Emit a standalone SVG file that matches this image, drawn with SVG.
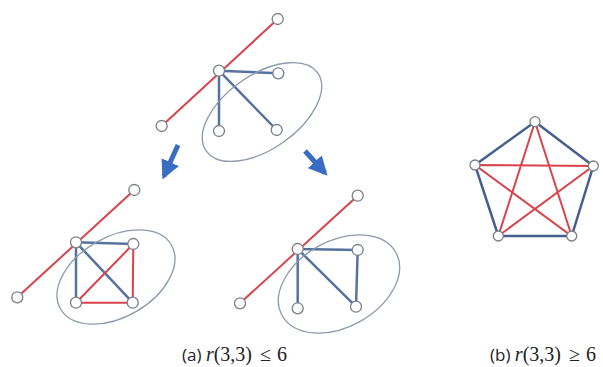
<svg xmlns="http://www.w3.org/2000/svg" width="603" height="367" viewBox="0 0 603 367">
<defs>
<style>
.red{stroke:#d9434a;stroke-width:2;fill:none;stroke-linecap:round}
.blue{stroke:#56739f;stroke-width:2.5;fill:none;stroke-linecap:round}
.pent{stroke:#46608e;stroke-width:2.5;fill:none}
.ell{stroke:#8d99ad;stroke-width:1.3;fill:none}
.node{fill:#fff;stroke:#7a7f88;stroke-width:1.3}
.arrow{stroke:#3b6cc4;stroke-width:5;fill:none}
.lbl{font-family:"Open Sans","Liberation Sans",sans-serif;font-size:17px;fill:#222}
.math{font-family:"Liberation Serif","DejaVu Serif",serif;font-size:20px}
</style>
<marker id="ah" viewBox="0 0 10 10" refX="8" refY="5" markerWidth="3.8" markerHeight="3.8" orient="auto" markerUnits="strokeWidth">
<path d="M0,0 L10,5 L0,10 z" fill="#3b6cc4"/>
</marker>
</defs>
<rect width="603" height="367" fill="#fff"/>

<g id="connectors">
<line class="red" x1="277.7" y1="19" x2="161.7" y2="126"/>
<line class="blue" x1="219" y1="70.7" x2="278.3" y2="73.3"/>
<line class="blue" x1="219" y1="70.7" x2="219" y2="131"/>
<line class="blue" x1="219" y1="70.7" x2="276.7" y2="130"/>
<line class="red" x1="134.3" y1="190" x2="17.3" y2="297.3"/>
<line class="blue" x1="76" y1="242.3" x2="133.3" y2="244"/>
<line class="blue" x1="76" y1="242.3" x2="76" y2="302.7"/>
<line class="blue" x1="76" y1="242.3" x2="132.7" y2="302.7"/>
<line class="red" x1="133.3" y1="244" x2="132.7" y2="302.7"/>
<line class="red" x1="76" y1="302.7" x2="132.7" y2="302.7"/>
<line class="red" x1="76" y1="302.7" x2="133.3" y2="244"/>
<line class="red" x1="357.7" y1="195.7" x2="240" y2="303.3"/>
<line class="blue" x1="297.7" y1="249" x2="357.7" y2="250"/>
<line class="blue" x1="297.7" y1="249" x2="297.7" y2="308.3"/>
<line class="blue" x1="297.7" y1="249" x2="356" y2="306.7"/>
<line class="blue" x1="357.7" y1="250" x2="356" y2="306.7"/>
<polygon class="pent" points="535,121.7 593.3,166 571.7,236 498.3,236 475,165"/>
<polyline class="red" points="535,121.7 571.7,236 475,165 593.3,166 498.3,236 535,121.7"/>
<line class="arrow" x1="178" y1="145" x2="164" y2="176" marker-end="url(#ah)"/>
<line class="arrow" x1="305" y1="151" x2="325" y2="173" marker-end="url(#ah)"/>
</g>

<g id="ellipses">
<ellipse class="ell" cx="262" cy="112" rx="68" ry="37" transform="rotate(-35 262 112)"/>
<ellipse class="ell" cx="116" cy="277" rx="64" ry="40" transform="rotate(-30 116 277)"/>
<ellipse class="ell" cx="339" cy="284" rx="65" ry="43" transform="rotate(-29 339 284)"/>
</g>

<g id="nodes-top">
<circle class="node" cx="277.7" cy="19" r="5.5"/>
<circle class="node" cx="219" cy="70.7" r="5.5"/>
<circle class="node" cx="278.3" cy="73.3" r="5.5"/>
<circle class="node" cx="161.7" cy="126" r="5.5"/>
<circle class="node" cx="219" cy="131" r="5.5"/>
<circle class="node" cx="276.7" cy="130" r="5.5"/>
</g>
<g id="nodes-bottom-left">
<circle class="node" cx="134.3" cy="190" r="5.5"/>
<circle class="node" cx="76" cy="242.3" r="5.5"/>
<circle class="node" cx="133.3" cy="244" r="5.5"/>
<circle class="node" cx="17.3" cy="297.3" r="5.5"/>
<circle class="node" cx="76" cy="302.7" r="5.5"/>
<circle class="node" cx="132.7" cy="302.7" r="5.5"/>
</g>
<g id="nodes-bottom-middle">
<circle class="node" cx="357.7" cy="195.7" r="5.5"/>
<circle class="node" cx="297.7" cy="249" r="5.5"/>
<circle class="node" cx="357.7" cy="250" r="5.5"/>
<circle class="node" cx="240" cy="303.3" r="5.5"/>
<circle class="node" cx="297.7" cy="308.3" r="5.5"/>
<circle class="node" cx="356" cy="306.7" r="5.5"/>
</g>
<g id="nodes-pentagon">
<circle class="node" cx="535" cy="121.7" r="5"/>
<circle class="node" cx="593.3" cy="166" r="5"/>
<circle class="node" cx="571.7" cy="236" r="5"/>
<circle class="node" cx="498.3" cy="236" r="5"/>
<circle class="node" cx="475" cy="165" r="5"/>
</g>

<g id="labels">
<text class="lbl" x="182" y="361">(a) <tspan class="math" font-style="italic">r</tspan><tspan class="math">(3,3)</tspan><tspan class="math" dx="8">≤</tspan><tspan class="math" dx="6">6</tspan></text>
<text class="lbl" x="490" y="361">(b) <tspan class="math" font-style="italic">r</tspan><tspan class="math">(3,3)</tspan><tspan class="math" dx="8">≥</tspan><tspan class="math" dx="6">6</tspan></text>
</g>
</svg>
